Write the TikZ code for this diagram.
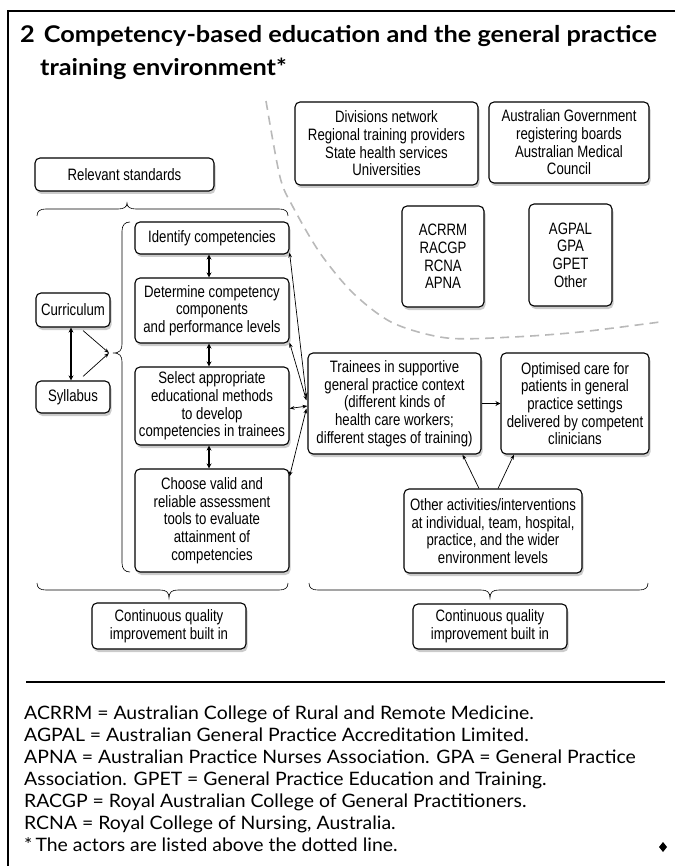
\documentclass[tikz,border=0pt]{standalone}
\usepackage{fontspec}
\usetikzlibrary{arrows.meta,shadows}
\newfontfamily\boxfnt[FakeStretch=0.8]{Liberation Sans}
\newfontfamily\ttlfnt[FakeStretch=1.1]{Lato}
\newfontfamily\notefnt[FakeStretch=1.05]{Lato}
\begin{document}
\begin{tikzpicture}[x=1pt,y=-1pt,
  box/.style={draw, rounded corners=5pt, line width=1.1pt, fill=white, align=center, inner sep=0pt,
    font={\boxfnt\fontsize{16.5pt}{17.7pt}\selectfont},
    drop shadow={shadow xshift=1.5pt,shadow yshift=-3pt,fill=black!45,opacity=0.45}},
  wh/.style 2 args={minimum width=#1pt, minimum height=#2pt},
  dbl/.style={{Stealth[length=5pt,width=5pt]}-{Stealth[length=5pt,width=5pt]}, line width=1.6pt},
  fat/.style={-{Stealth[length=5pt,width=5pt]}, line width=1.6pt},
  sarr/.style={-{Stealth[length=5pt,width=3.6pt]}, line width=0.7pt},
  darr/.style={{Stealth[length=5pt,width=3.6pt]}-{Stealth[length=5pt,width=3.6pt]}, line width=0.7pt},
  bracel/.style={line width=0.6pt},
  note/.style={anchor=base west, inner sep=0pt, font={\notefnt\fontsize{18.5pt}{22pt}\selectfont}},
  ttl/.style={anchor=base west, inner sep=0pt, font={\ttlfnt\bfseries\fontsize{23pt}{27pt}\selectfont}}
]
\useasboundingbox (0,0) rectangle (675,866);
% frame
\draw[line width=2pt] (675,11) -- (8,11) -- (8,866);
% title
\node[ttl] (t1) at (20,43) {2\hspace{9pt}Competency-based education and the general practice};
\node[ttl] (t2) at (40,76) {training environment*};
% dashed boundary
\draw[gray!55, line width=1.6pt, dash pattern=on 9pt off 6pt]
  plot[smooth] coordinates {(266,101) (280,177) (293,207) (320,253) (353,293) (393,323) (447,338) (513,337) (580,332) (660,322)};
% boxes
\node[box, wh={179}{33}] (rel) at (124.5,174.5) {Relevant standards};
\node[box, wh={183}{83}] (div) at (386.5,143.5) {Divisions network\\Regional training providers\\State health services\\Universities};
\node[box, wh={160}{81}] (gov) at (569,142.5) {Australian Government\\registering boards\\Australian Medical\\Council};
\node[box, wh={82}{101}] (acr) at (443,256.5) {ACRRM\\RACGP\\RCNA\\APNA};
\node[box, wh={83}{102}] (agp) at (570.5,255) {AGPAL\\GPA\\GPET\\Other};
\node[box, wh={154}{32}] (ide) at (212,238) {Identify competencies};
\node[box, wh={154}{65}] (det) at (212,310.5) {Determine competency\\components\\and performance levels};
\node[box, wh={154}{78}] (sel) at (212,406) {Select appropriate\\educational methods\\to develop\\competencies in trainees};
\node[box, wh={154}{103}] (cho) at (212,520.5) {Choose valid and\\reliable assessment\\tools to evaluate\\attainment of\\competencies};
\node[box, wh={74}{34}] (cur) at (73,310) {Curriculum};
\node[box, wh={74}{32}] (syl) at (73,397) {Syllabus};
\node[box, wh={173}{101}] (tra) at (394.5,403.5) {Trainees in supportive\\general practice context\\(different kinds of\\health care workers;\\different stages of training)};
\node[box, wh={148}{101}] (opt) at (575,403.5) {Optimised care for\\patients in general\\practice settings\\delivered by competent\\clinicians};
\node[box, wh={178}{84}] (oth) at (493,531) {Other activities/interventions\\at individual, team, hospital,\\practice, and the wider\\environment levels};
\node[box, wh={154}{46}] (cql) at (169,626) {Continuous quality\\improvement built in};
\node[box, wh={154}{45}] (cqr) at (490,626.5) {Continuous quality\\improvement built in};
% braces
\draw[bracel] (37,216) .. controls (37,211) and (40,209) .. (46,209) -- (118,209) .. controls (124,209) and (127,207) .. (127,203) .. controls (127,207) and (130,209) .. (136,209) -- (279,209) .. controls (285,209) and (288,211) .. (288,216);
\draw[bracel] (130,222) .. controls (125,222) and (122,225) .. (122,231) -- (122,344) .. controls (122,350) and (120,353) .. (113,353) .. controls (120,353) and (122,356) .. (122,362) -- (122,563) .. controls (122,569) and (125,572) .. (130,572);
\draw[bracel] (37,583) .. controls (37,588) and (40,590) .. (46,590) -- (160,590) .. controls (166,590) and (169,592) .. (169,598) .. controls (169,592) and (172,590) .. (178,590) -- (279,590) .. controls (285,590) and (288,588) .. (288,583);
\draw[bracel] (309,583) .. controls (309,588) and (312,590) .. (318,590) -- (481,590) .. controls (487,590) and (490,592) .. (490,598) .. controls (490,592) and (493,590) .. (499,590) -- (639,590) .. controls (645,590) and (648,588) .. (648,583);
\coordinate (tipL) at (109,353);
% connectors
\draw[dbl] ([xshift=-2pt]cur.south) -- ([xshift=-2pt]syl.north);
\draw[sarr] ([xshift=10pt,yshift=-3pt]cur.south) -- (tipL);
\draw[sarr] ([xshift=10pt,yshift=4pt]syl.north) -- (tipL);
\draw[dbl] ([xshift=-3pt]ide.south) -- ([xshift=-3pt]det.north);
\draw[dbl] ([xshift=-3pt]det.south) -- ([xshift=-3pt]sel.north);
\draw[dbl] ([xshift=-3pt]sel.south) -- ([xshift=-3pt]cho.north);
\draw[darr] ([yshift=2pt]ide.south east) -- ([xshift=-1pt,yshift=6pt]tra.west);
\draw[darr] ([yshift=1pt]det.south east) -- ([xshift=-1pt,yshift=3pt]tra.west);
\draw[darr] ([yshift=-2.5pt]sel.east) -- ([yshift=-2.5pt]tra.west);
\draw[darr] ([yshift=-8pt]cho.north east) -- ([xshift=-1pt,yshift=-5pt]tra.west);
\draw[fat] (tra.east) -- (opt.west);
\draw[sarr] ([xshift=-14pt]oth.north) -- ([xshift=68pt]tra.south);
\draw[sarr] ([xshift=5pt]oth.north) -- ([xshift=-61pt]opt.south);
% separator and notes
\draw[line width=1.8pt] (26,682) -- (665,682);
\node[note] (n1) at (24,719) {ACRRM = Australian College of Rural and Remote Medicine.};
\node[note] (n2) at (24,741) {AGPAL = Australian General Practice Accreditation Limited.};
\node[note] (n3) at (24,763) {APNA = Australian Practice Nurses Association. GPA = General Practice};
\node[note] (n4) at (24,785) {Association. GPET = General Practice Education and Training.};
\node[note] (n5) at (24,807) {RACGP = Royal Australian College of General Practitioners.};
\node[note] (n6) at (24,829) {RCNA = Royal College of Nursing, Australia.};
\node[note] (n7) at (24,851) {*\,The actors are listed above the dotted line.};
\fill (663,842) -- (667,847) -- (663,852) -- (659,847) -- cycle;
\end{tikzpicture}
\end{document}
